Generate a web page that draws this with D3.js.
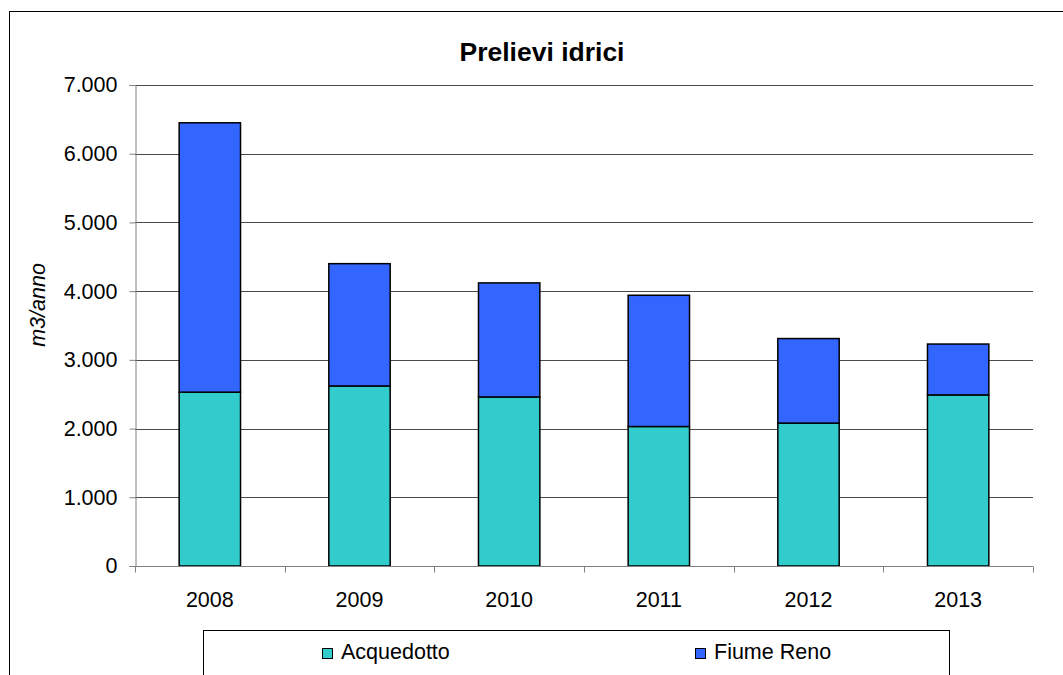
<!DOCTYPE html>
<html>
<head>
<meta charset="utf-8">
<script src="https://cdn.jsdelivr.net/npm/d3@7"></script>
<style>
  html, body { margin: 0; padding: 0; background: #fff; }
  svg { display: block; font-family: "Liberation Sans", Arial, sans-serif; }
</style>
</head>
<body>
<svg id="chart" width="1063" height="675"></svg>
<script>
// Prelievi idrici per anno (m3/anno)
const years = ["2008", "2009", "2010", "2011", "2012", "2013"];
const acquedotto = [2530, 2620, 2460, 2030, 2080, 2490];
const fiumeReno = [3920, 1780, 1660, 1910, 1230, 740];
const seriesNames = ["Acquedotto", "Fiume Reno"];
const seriesColors = ["#33CCCC", "#3366FF"];
const yTicks = [0, 1000, 2000, 3000, 4000, 5000, 6000, 7000];

const svg = d3.select("#chart");
const margin = { left: 135, top: 85 };
const plotW = 1033 - margin.left;
const plotH = 566 - margin.top;
const fontSize = 21.5;

// outer chart frame
svg.append("rect")
  .attr("x", 9.5).attr("y", 11.5)
  .attr("width", 1080).attr("height", 700)
  .attr("fill", "none").attr("stroke", "#000").attr("stroke-width", 1);

const g = svg.append("g").attr("transform", `translate(${margin.left},${margin.top})`);

const x = d3.scaleBand().domain(years).range([0, plotW]).paddingInner(0.59).paddingOuter(0.295);
const xOuter = d3.scaleBand().domain(years).range([0, plotW]);
const y = d3.scaleLinear().domain([0, 7000]).range([plotH, 0]);

const fmt = v => d3.format(",")(v).replace(/,/g, ".");

// gridlines
g.append("g").selectAll("line").data(yTicks.filter(t => t > 0)).join("line")
  .attr("x1", 0).attr("x2", plotW)
  .attr("y1", d => Math.round(y(d)) + 0.5).attr("y2", d => Math.round(y(d)) + 0.5)
  .attr("stroke", "#4a4a4a").attr("stroke-width", 1);

// stacked bars
const table = years.map((yr, i) => ({ year: yr, Acquedotto: acquedotto[i], "Fiume Reno": fiumeReno[i] }));
const stack = d3.stack().keys(seriesNames)(table);

g.append("g").selectAll("g").data(stack).join("g")
  .attr("fill", (d, i) => seriesColors[i])
  .selectAll("rect").data(d => d).join("rect")
  .attr("x", d => x(d.data.year))
  .attr("y", d => y(d[1]))
  .attr("width", x.bandwidth())
  .attr("height", d => y(d[0]) - y(d[1]))
  .attr("stroke", "#000").attr("stroke-width", 1.5);

// y axis
const yAxis = d3.axisLeft(y).tickValues(yTicks).tickFormat(fmt).tickSize(6).tickPadding(12);
const ya = g.append("g").attr("transform", "translate(0.5,0)").call(yAxis);
ya.select(".domain").attr("stroke", "#808080");
ya.selectAll(".tick line").attr("stroke", "#808080");
ya.selectAll("text").attr("font-size", fontSize).attr("fill", "#000")
  .attr("font-family", "Liberation Sans, Arial, sans-serif");

// x axis with ticks between categories
const xa = g.append("g").attr("transform", `translate(0,${plotH + 0.5})`);
xa.append("line").attr("x1", 0).attr("x2", plotW).attr("stroke", "#808080");
xa.selectAll(".sep").data(d3.range(years.length + 1)).join("line")
  .attr("class", "sep")
  .attr("x1", i => Math.round(i * xOuter.step()) + 0.5)
  .attr("x2", i => Math.round(i * xOuter.step()) + 0.5)
  .attr("y1", 0).attr("y2", 6).attr("stroke", "#808080");
xa.selectAll("text").data(years).join("text")
  .attr("x", d => xOuter(d) + xOuter.bandwidth() / 2)
  .attr("y", 40.5)
  .attr("text-anchor", "middle")
  .attr("font-size", fontSize).attr("fill", "#000")
  .text(d => d);

// title
svg.append("text")
  .attr("x", 542).attr("y", 61)
  .attr("text-anchor", "middle")
  .attr("font-size", 26.5).attr("font-weight", "bold")
  .text("Prelievi idrici");

// y axis label
svg.append("text")
  .attr("transform", "translate(45,305) rotate(-90)")
  .attr("text-anchor", "middle")
  .attr("font-size", fontSize).attr("font-style", "italic")
  .text("m3/anno");

// legend
const lg = svg.append("g");
lg.append("rect")
  .attr("x", 203.5).attr("y", 630.5)
  .attr("width", 746).attr("height", 80)
  .attr("fill", "#fff").attr("stroke", "#000");
const legendX = [322, 695];
seriesNames.forEach((name, i) => {
  lg.append("rect")
    .attr("x", legendX[i] + 0.5).attr("y", 648.5)
    .attr("width", 10).attr("height", 10)
    .attr("fill", seriesColors[i]).attr("stroke", "#000");
  lg.append("text")
    .attr("x", legendX[i] + 19).attr("y", 659)
    .attr("font-size", fontSize)
    .text(name);
});
</script>
</body>
</html>
